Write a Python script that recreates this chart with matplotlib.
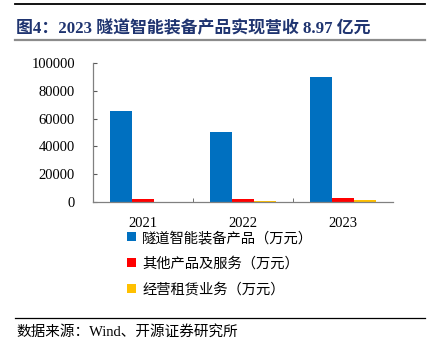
import matplotlib
matplotlib.use("Agg")
import matplotlib.pyplot as plt
import numpy as np
from matplotlib.lines import Line2D
from matplotlib.patches import Patch

plt.rcParams['font.family'] = ['Liberation Serif', 'Noto Sans CJK SC', 'DejaVu Sans']

years = ['2021', '2022', '2023']
series_names = ['隧道智能装备产品（万元）', '其他产品及服务（万元）', '经营租赁业务（万元）']
tunnel_equip = [65500, 50700, 89700]
other_products = [2100, 2400, 2700]
leasing = [0, 900, 1700]
colors = ['#0070C0', '#FF0000', '#FFC000']
yticks = [0, 20000, 40000, 60000, 80000, 100000]

W, H = 429, 354
fig = plt.figure(figsize=(W / 100, H / 100), dpi=100)

def fx(px):
    return px / W

def fy(py):
    return 1 - py / H

# decorative lines
fig.add_artist(Line2D([fx(15), fx(425)], [fy(3.5), fy(3.5)], color='black', lw=1.3))
fig.add_artist(Line2D([fx(15), fx(425)], [fy(40), fy(40)], color='#8c8c8c', lw=1.6))
fig.add_artist(Line2D([fx(15), fx(425)], [fy(317.5), fy(317.5)], color='black', lw=0.9))

fig.text(fx(16), fy(33), '图4：2023 隧道智能装备产品实现营收 8.97 亿元', fontsize=12.2,
         fontweight='bold', color='#1F3470', va='baseline', ha='left')
fig.text(fx(16), fy(336), '数据来源：Wind、开源证券研究所', fontsize=10.5,
         color='black', va='baseline', ha='left')

ax = fig.add_axes([fx(93), fy(202), fx(393) - fx(93), fy(63) - fy(202)])
x = np.arange(len(years))
bw = 0.22
data = [tunnel_equip, other_products, leasing]
for i, (vals, c, name) in enumerate(zip(data, colors, series_names)):
    ax.bar(x + (i - 1) * bw, vals, width=bw, color=c, label=name)

ax.set_xlim(-0.5, 2.5)
ax.set_ylim(0, 100000)
ax.set_yticks(yticks)
ax.set_yticklabels([str(v) for v in yticks], fontsize=10.5)
ax.set_xticks(x)
ax.set_xticklabels(years, fontsize=10.5)
ax.tick_params(axis='x', length=0, pad=11)
ax.set_xticks([0.5, 1.5], minor=True)
ax.tick_params(axis='x', which='minor', direction='in', length=3, color='#595959')
ax.tick_params(axis='y', direction='in', length=3, color='#595959', pad=13)
for s in ['top', 'right']:
    ax.spines[s].set_visible(False)
for s in ['left', 'bottom']:
    ax.spines[s].set_color('#808080')
    ax.spines[s].set_linewidth(0.9)

handles = [Patch(facecolor=c, edgecolor='none') for c in colors]
fig.legend(handles, series_names, loc='upper left', bbox_to_anchor=(fx(127), fy(231)),
           frameon=False, fontsize=10.3, handlelength=0.6, handleheight=0.6,
           handletextpad=0.45, labelspacing=0.85, borderaxespad=0, borderpad=0)

fig.savefig('out.png', dpi=100)
